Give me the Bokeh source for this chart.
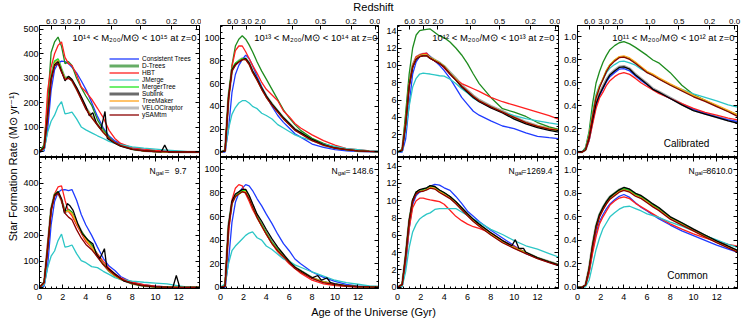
import math
from bokeh.plotting import figure
from bokeh.models import (Range1d, LinearAxis, FixedTicker, SingleIntervalTicker,
                          Label, Legend, LegendItem, PrintfTickFormatter)
from bokeh.layouts import row, column
from bokeh.embed import file_html
from bokeh.resources import INLINE

# ---------------------------------------------------------------- data
age = [0, 0.4, 0.7, 1.0, 1.3, 1.6, 1.9, 2.2, 2.5, 2.8, 3.2, 3.6, 4.0, 4.5, 5.0, 5.5,
       6.0, 6.5, 7.0, 8.0, 9.0, 10.0, 11.0, 12.0, 13.0, 13.8]

# ---- 1e14 - 1e15, calibrated
p1t_ct = [0, 5, 90, 250, 335, 362, 370, 368, 360, 345, 322, 290, 255, 202, 145, 98, 65, 45, 33, 15, 9, 5, 2, 1, 0, 0]
p1t_dt = [0, 30, 200, 405, 448, 468, 430, 360, 368, 352, 300, 262, 228, 190, 131, 92, 60, 38, 28, 11, 6, 3, 1, 0, 0, 0]
p1t_hbt = [0, 15, 250, 345, 400, 434, 448, 385, 360, 352, 315, 265, 245, 215, 178, 140, 88, 55, 35, 18, 12, 7, 3, 1, 0, 0]
p1t_jm = [0, 10, 80, 125, 150, 185, 205, 155, 158, 162, 135, 102, 90, 78, 66, 55, 43, 35, 30, 21, 16, 12, 8, 4, 0, 0]
p1t_mt = [0, 20, 155, 310, 370, 380, 338, 300, 306, 293, 258, 220, 180, 144, 111, 81, 55, 37, 25, 12, 5, 2, 1, 0, 0, 0]
p1t_sl_age = [0, 0.4, 0.7, 1.0, 1.3, 1.6, 1.9, 2.2, 2.5, 2.8, 3.2, 3.6, 4.0, 4.3, 4.6, 4.9,
              5.3, 5.65, 5.85, 6.5, 7.0, 8.0, 9.0, 10.0, 10.5, 10.8, 11.1, 12.0, 13.0, 13.8]
p1t_sl = [0, 20, 150, 300, 355, 368, 330, 290, 308, 295, 262, 225, 185, 148, 160, 118,
          92, 165, 55, 36, 24, 11, 5, 2, 1, 28, 0, 0, 0, 0]
p1t_tm = [0, 18, 148, 300, 360, 372, 332, 298, 303, 290, 256, 218, 178, 143, 110, 80, 55, 37, 25, 12, 5, 2, 1, 0, 0, 0]
p1t_vr = [0, 18, 150, 305, 365, 375, 335, 300, 305, 292, 258, 220, 180, 145, 112, 82, 56, 38, 26, 12, 5, 2, 1, 0, 0, 0]
p1t_ys = [0, 15, 140, 290, 350, 360, 325, 295, 300, 290, 255, 215, 175, 140, 110, 80, 55, 38, 26, 12, 5, 2, 1, 0, 0, 0]

# ---- 1e14 - 1e15, common
p1b_ct = [0, 5, 80, 240, 330, 365, 375, 376, 372, 376, 335, 280, 240, 200, 155, 112, 82, 65, 42, 20, 10, 5, 2, 1, 0, 0]
p1b_dt = [0, 20, 150, 300, 355, 365, 335, 290, 300, 290, 245, 215, 192, 165, 128, 90, 62, 45, 32, 14, 6, 2, 1, 0, 0, 0]
p1b_hbt = [0, 15, 170, 290, 360, 386, 390, 335, 292, 275, 240, 208, 176, 153, 129, 100, 74, 52, 37, 20, 11, 5, 2, 1, 0, 0]
p1b_jm = [0, 10, 75, 120, 140, 180, 205, 155, 158, 163, 130, 103, 95, 80, 76, 62, 50, 38, 31, 24, 20, 17, 14, 6, 0, 0]
p1b_mt = [0, 20, 152, 302, 358, 368, 336, 290, 296, 286, 250, 215, 186, 156, 122, 90, 64, 45, 32, 15, 6, 2, 1, 0, 0, 0]
p1b_sl_age = [0, 0.4, 0.7, 1.0, 1.3, 1.6, 1.9, 2.15, 2.4, 2.6, 2.9, 3.3, 3.7, 4.2, 4.6, 4.9,
              5.2, 5.6, 5.8, 6.5, 7.3, 8.7, 10.0, 11.5, 11.8, 12.1, 13.0, 13.8]
p1b_sl = [0, 20, 150, 300, 355, 368, 340, 285, 322, 315, 296, 245, 206, 181, 168, 129,
          110, 149, 78, 53, 24, 8, 2, 0, 46, 0, 0, 0]
p1b_tm = [0, 18, 148, 298, 355, 366, 334, 290, 294, 284, 248, 213, 184, 155, 121, 89, 63, 45, 32, 15, 6, 2, 1, 0, 0, 0]
p1b_vr = [0, 18, 150, 300, 356, 367, 335, 290, 295, 285, 250, 215, 185, 155, 122, 90, 64, 45, 32, 15, 6, 2, 1, 0, 0, 0]
p1b_ys = [0, 18, 145, 295, 350, 362, 335, 285, 270, 260, 222, 190, 165, 145, 117, 88, 66, 48, 33, 16, 7, 3, 1, 0, 0, 0]

# ---- 1e13 - 1e14, calibrated
p2t_ct = [0, 0, 20, 52, 68, 76, 81, 85, 82, 76, 66, 57, 49, 40, 32, 26, 21, 16, 13, 7, 4, 2, 1, 0.5, 0.3, 0.2]
p2t_dt = [0, 1, 45, 76, 93, 99, 102, 99, 94, 88, 79, 71, 64, 55, 46, 37, 30, 24, 19, 12, 7.5, 4, 2, 1, 0.5, 0.3]
p2t_hbt = [0, 1, 45, 75, 89, 93, 93, 88, 82, 76, 69, 61, 55, 50, 45, 36, 31, 25, 21, 15, 10, 6, 3, 2, 1, 0.5]
p2t_jm = [0, 2, 20, 33, 39, 43, 45, 45, 43, 40, 38, 34, 32, 29, 24, 21, 18, 15, 13, 10, 7, 5, 3, 2, 1, 0.7]
p2t_mt = [0, 1, 50, 73, 78, 80, 82, 82, 78, 71, 64, 56, 49, 42, 36, 30, 25, 20, 17, 11, 6, 3.5, 2, 1, 0.5, 0.3]
p2t_sl = [0, 1, 48, 72, 77, 79, 81, 82, 78, 71, 64, 56, 49, 42, 36, 30, 25, 20, 17, 11, 6.5, 3.5, 2, 1, 0.5, 0.3]
p2t_tm = [0, 1, 47, 71, 77, 79, 81, 81, 77, 70, 63, 55, 48, 41, 35, 29, 24, 20, 16, 10, 6, 3.5, 2, 1, 0.5, 0.3]
p2t_vr = [0, 1, 48, 72, 77, 80, 82, 82, 78, 71, 64, 56, 49, 42, 36, 30, 25, 20, 17, 11, 6, 3.5, 2, 1, 0.5, 0.3]
p2t_ys = [0, 1, 47, 71, 76, 79, 81, 81, 77, 70, 63, 55, 48, 41, 35, 29, 24, 19, 16, 10, 6, 3.5, 2, 1, 0.5, 0.3]

# ---- 1e13 - 1e14, common
p2b_ct = [0, 0, 22, 55, 72, 80, 84, 87, 86, 82, 75, 69, 62, 54, 45, 37, 31, 24, 20, 13, 8.5, 5, 2.5, 1, 0.5, 0.3]
p2b_dt = [0, 1, 50, 71, 77, 79, 81, 81, 76, 69, 60, 53, 46, 38, 32, 27, 22, 17, 14, 8, 4.5, 2.6, 1.2, 0.6, 0.3, 0.2]
p2b_hbt = [0, 1, 45, 74, 84, 87, 86, 79, 73, 66, 59, 52, 45, 37, 30, 25, 20, 16, 12, 6, 3, 1.5, 0.8, 0.4, 0.2, 0.1]
p2b_jm = [0, 3, 20, 31, 35, 38, 41, 44, 46, 47, 42, 40, 35, 32, 28, 24, 22, 19, 17, 13, 9.5, 6, 4, 2.6, 1.2, 0.8]
p2b_mt = [0, 1, 52, 72, 78, 80, 82, 82, 76, 69, 60, 53, 46, 38, 32, 27, 22, 17, 14, 8, 4.5, 2.6, 1.2, 0.6, 0.3, 0.2]
p2b_sl_age = [0, 0.4, 0.7, 1.0, 1.3, 1.6, 1.9, 2.2, 2.5, 2.8, 3.2, 3.6, 4.0, 4.5, 5.0, 5.5,
              6.0, 6.5, 7.0, 8.0, 8.5, 8.8, 9.3, 9.6, 10.0, 11.0, 12.0, 13.0, 13.8]
p2b_sl = [0, 1, 52, 73, 79, 81, 83, 83, 78, 71, 62, 56, 49, 41, 34, 28,
          22, 17, 14, 8, 10, 6, 8, 4, 3, 1.2, 0.6, 0.3, 0.2]
p2b_tm = [0, 1, 51, 71, 77, 79, 81, 81, 75, 68, 59, 52, 45, 37, 31, 26, 21, 17, 13, 8, 4.5, 2.5, 1.2, 0.6, 0.3, 0.2]
p2b_vr = [0, 1, 52, 72, 78, 80, 82, 82, 76, 69, 60, 53, 46, 38, 32, 27, 22, 17, 14, 8, 4.5, 2.6, 1.2, 0.6, 0.3, 0.2]
p2b_ys = [0, 1, 50, 71, 77, 79, 81, 80, 75, 68, 59, 52, 45, 37, 31, 26, 21, 16, 13, 7.5, 4, 2.4, 1.1, 0.5, 0.3, 0.2]

# ---- 1e12 - 1e13, calibrated
p3t_ct = [0, 0, 1.5, 5.5, 9.0, 10.4, 11.0, 11.3, 11.4, 11.0, 10.5, 10.0, 9.4, 8.5, 7.4, 6.3, 5.5, 4.7, 4.25, 3.6, 3.0, 2.7, 2.2, 1.8, 1.65, 1.55]
p3t_dt = [0, 0.3, 4.5, 9.0, 12.0, 13.5, 14.0, 14.1, 14.15, 14.2, 13.8, 13.4, 13.2, 12.7, 12.0, 11.2, 10.2, 9.0, 7.9, 6.3, 5.0, 4.6, 4.1, 3.4, 2.9, 2.6]
p3t_hbt = [0, 0.2, 3.5, 7.8, 10.0, 11.0, 11.2, 11.35, 11.4, 10.9, 10.5, 10.3, 9.7, 9.0, 8.4, 7.9, 7.6, 7.3, 7.0, 6.3, 5.8, 5.4, 5.0, 4.6, 4.2, 3.8]
p3t_jm = [0, 0.1, 2.5, 5.3, 7.5, 8.5, 9.0, 9.1, 9.05, 9.0, 8.9, 8.8, 8.75, 8.4, 7.9, 7.3, 6.8, 6.2, 5.8, 5.2, 4.6, 4.2, 3.85, 3.6, 3.35, 3.2]
p3t_mt = [0, 0.2, 3.3, 7.7, 9.9, 10.8, 11.1, 11.2, 11.2, 10.9, 10.6, 10.3, 9.9, 9.1, 8.4, 7.6, 7.0, 6.4, 5.9, 5.2, 4.6, 3.9, 3.35, 2.9, 2.6, 2.45]
p3t_sl = [0, 0.2, 3.2, 7.6, 9.8, 10.7, 11.0, 11.1, 11.1, 10.8, 10.5, 10.2, 9.8, 9.0, 8.3, 7.5, 6.9, 6.3, 5.8, 5.1, 4.5, 3.8, 3.25, 2.8, 2.5, 2.3]
p3t_tm = [0, 0.2, 3.3, 7.7, 9.9, 10.8, 11.1, 11.2, 11.2, 10.9, 10.6, 10.3, 9.9, 9.1, 8.4, 7.6, 7.0, 6.4, 5.9, 5.2, 4.6, 4.0, 3.4, 3.0, 2.7, 2.55]
p3t_vr = [0, 0.2, 3.3, 7.8, 10.0, 10.9, 11.2, 11.3, 11.25, 10.95, 10.6, 10.3, 9.9, 9.2, 8.5, 7.7, 7.1, 6.5, 6.0, 5.3, 4.7, 4.05, 3.45, 3.0, 2.7, 2.55]
p3t_ys = [0, 0.2, 3.2, 7.6, 9.8, 10.7, 11.0, 11.1, 11.1, 10.8, 10.5, 10.2, 9.8, 9.0, 8.3, 7.6, 7.0, 6.4, 5.9, 5.2, 4.6, 4.0, 3.4, 2.95, 2.65, 2.5]

# ---- 1e12 - 1e13, common
p3b_ct = [0, 0.1, 2.5, 6.8, 9.6, 10.6, 11.0, 11.2, 11.45, 11.7, 11.9, 11.8, 11.5, 11.2, 10.5, 9.7, 8.8, 8.2, 7.6, 6.6, 5.7, 4.8, 3.9, 3.4, 2.9, 2.6]
p3b_dt = [0, 0.3, 3.8, 7.8, 10.1, 11.0, 11.2, 11.3, 11.45, 11.7, 11.6, 11.2, 10.9, 10.5, 9.9, 9.2, 8.5, 7.8, 7.25, 6.2, 5.3, 4.6, 4.0, 3.4, 2.95, 2.6]
p3b_hbt = [0, 0.2, 3.0, 6.8, 9.2, 10.0, 10.3, 10.3, 10.2, 10.1, 10.0, 9.9, 9.6, 8.9, 8.2, 7.7, 7.3, 7.0, 6.8, 6.3, 5.4, 4.7, 4.0, 3.4, 2.95, 2.6]
p3b_jm = [0, 0.1, 1.8, 4.6, 6.4, 7.3, 7.9, 8.2, 8.45, 8.6, 9.0, 9.1, 9.1, 9.1, 9.1, 8.7, 8.3, 7.9, 7.5, 6.7, 6.1, 5.4, 4.8, 4.4, 3.9, 3.5]
p3b_mt = [0, 0.3, 3.6, 7.6, 10.0, 10.9, 11.15, 11.2, 11.35, 11.6, 11.5, 11.1, 10.8, 10.4, 9.8, 9.1, 8.4, 7.75, 7.2, 6.2, 5.3, 4.6, 4.0, 3.4, 2.95, 2.6]
p3b_sl_age = [0, 0.4, 0.7, 1.0, 1.3, 1.6, 1.9, 2.2, 2.5, 2.8, 3.2, 3.6, 4.0, 4.5, 5.0, 5.5,
              6.0, 6.5, 7.0, 8.0, 9.0, 9.8, 10.1, 10.4, 10.8, 11.0, 12.0, 13.0, 13.8]
p3b_sl = [0, 0.3, 3.7, 7.7, 10.1, 11.0, 11.3, 11.4, 11.5, 11.75, 11.65, 11.25, 10.95, 10.5, 9.9, 9.2,
          8.5, 7.85, 7.3, 6.3, 5.4, 4.8, 5.5, 4.5, 4.5, 4.05, 3.4, 2.95, 2.6]
p3b_tm = [0, 0.3, 3.6, 7.6, 10.0, 10.85, 11.1, 11.15, 11.3, 11.55, 11.45, 11.05, 10.75, 10.35, 9.75, 9.05, 8.35, 7.7, 7.15, 6.15, 5.25, 4.55, 3.95, 3.35, 2.9, 2.55]
p3b_vr = [0, 0.3, 3.6, 7.6, 10.0, 10.9, 11.15, 11.2, 11.35, 11.6, 11.5, 11.1, 10.8, 10.4, 9.8, 9.1, 8.4, 7.75, 7.2, 6.2, 5.3, 4.6, 4.0, 3.4, 2.95, 2.6]
p3b_ys = [0, 0.3, 3.5, 7.5, 9.9, 10.8, 11.05, 11.1, 11.25, 11.45, 11.35, 10.95, 10.65, 10.25, 9.65, 8.95, 8.25, 7.6, 7.05, 6.05, 5.15, 4.5, 3.9, 3.3, 2.85, 2.5]

# ---- 1e11 - 1e12, calibrated
p4t_ct = [0, 0, 0.02, 0.1, 0.26, 0.4, 0.49, 0.55, 0.61, 0.655, 0.69, 0.72, 0.725, 0.705, 0.66, 0.62, 0.585, 0.545, 0.515, 0.465, 0.415, 0.37, 0.335, 0.305, 0.28, 0.265]
p4t_dt = [0, 0, 0.04, 0.18, 0.42, 0.6, 0.7, 0.78, 0.84, 0.89, 0.925, 0.95, 0.96, 0.94, 0.91, 0.875, 0.84, 0.8, 0.775, 0.69, 0.58, 0.5, 0.45, 0.4, 0.355, 0.325]
p4t_hbt = [0, 0, 0.02, 0.1, 0.24, 0.38, 0.47, 0.52, 0.58, 0.62, 0.655, 0.68, 0.69, 0.675, 0.64, 0.6, 0.57, 0.54, 0.51, 0.465, 0.42, 0.38, 0.345, 0.32, 0.295, 0.28]
p4t_jm = [0, 0, 0.03, 0.15, 0.35, 0.5, 0.58, 0.63, 0.69, 0.73, 0.76, 0.785, 0.79, 0.775, 0.755, 0.72, 0.695, 0.665, 0.64, 0.585, 0.545, 0.505, 0.475, 0.445, 0.41, 0.39]
p4t_mt = [0, 0, 0.02, 0.14, 0.32, 0.48, 0.57, 0.64, 0.71, 0.76, 0.8, 0.825, 0.83, 0.81, 0.775, 0.735, 0.695, 0.67, 0.64, 0.585, 0.535, 0.485, 0.445, 0.4, 0.355, 0.315]
p4t_sl = [0, 0, 0.02, 0.12, 0.28, 0.42, 0.5, 0.56, 0.62, 0.67, 0.705, 0.735, 0.74, 0.72, 0.67, 0.63, 0.59, 0.545, 0.52, 0.465, 0.41, 0.36, 0.33, 0.3, 0.27, 0.25]
p4t_tm = [0, 0, 0.02, 0.14, 0.32, 0.48, 0.57, 0.64, 0.71, 0.76, 0.8, 0.83, 0.835, 0.818, 0.782, 0.742, 0.702, 0.677, 0.647, 0.592, 0.542, 0.492, 0.452, 0.407, 0.362, 0.322]
p4t_vr = [0, 0, 0.02, 0.12, 0.29, 0.43, 0.51, 0.57, 0.63, 0.675, 0.71, 0.74, 0.745, 0.725, 0.675, 0.635, 0.595, 0.55, 0.525, 0.47, 0.415, 0.365, 0.335, 0.305, 0.275, 0.255]
p4t_ys = [0, 0, 0.02, 0.13, 0.31, 0.47, 0.56, 0.63, 0.7, 0.75, 0.79, 0.82, 0.825, 0.805, 0.77, 0.73, 0.69, 0.665, 0.635, 0.58, 0.53, 0.48, 0.44, 0.395, 0.35, 0.31]

# ---- 1e11 - 1e12, common
p4b_ct = [0, 0, 0.015, 0.13, 0.31, 0.46, 0.56, 0.62, 0.67, 0.71, 0.745, 0.775, 0.79, 0.765, 0.72, 0.68, 0.65, 0.615, 0.585, 0.53, 0.48, 0.44, 0.4, 0.36, 0.325, 0.3]
p4b_dt = [0, 0, 0.02, 0.15, 0.35, 0.51, 0.61, 0.67, 0.72, 0.76, 0.79, 0.82, 0.835, 0.82, 0.785, 0.765, 0.73, 0.695, 0.665, 0.59, 0.54, 0.485, 0.435, 0.385, 0.34, 0.305]
p4b_hbt = [0, 0, 0.015, 0.12, 0.29, 0.43, 0.54, 0.6, 0.65, 0.7, 0.735, 0.76, 0.77, 0.755, 0.715, 0.685, 0.655, 0.625, 0.595, 0.54, 0.495, 0.455, 0.42, 0.39, 0.365, 0.35]
p4b_jm = [0, 0, 0.005, 0.06, 0.19, 0.32, 0.42, 0.5, 0.55, 0.6, 0.635, 0.665, 0.685, 0.69, 0.67, 0.65, 0.625, 0.61, 0.595, 0.555, 0.52, 0.48, 0.44, 0.405, 0.365, 0.34]
p4b_mt = [0, 0, 0.02, 0.16, 0.36, 0.52, 0.62, 0.68, 0.73, 0.77, 0.8, 0.83, 0.845, 0.83, 0.795, 0.775, 0.74, 0.705, 0.675, 0.595, 0.545, 0.49, 0.44, 0.39, 0.345, 0.31]
p4b_sl = [0, 0, 0.02, 0.16, 0.36, 0.52, 0.62, 0.68, 0.73, 0.77, 0.8, 0.83, 0.85, 0.835, 0.8, 0.78, 0.745, 0.71, 0.68, 0.6, 0.55, 0.495, 0.445, 0.395, 0.35, 0.315]
p4b_tm = [0, 0, 0.02, 0.15, 0.35, 0.5, 0.6, 0.66, 0.71, 0.75, 0.785, 0.815, 0.83, 0.815, 0.78, 0.76, 0.725, 0.69, 0.66, 0.585, 0.535, 0.48, 0.43, 0.385, 0.34, 0.305]
p4b_vr = [0, 0, 0.02, 0.16, 0.36, 0.52, 0.62, 0.68, 0.73, 0.77, 0.8, 0.83, 0.845, 0.83, 0.795, 0.775, 0.74, 0.705, 0.675, 0.595, 0.545, 0.49, 0.44, 0.39, 0.345, 0.31]
p4b_ys = [0, 0, 0.02, 0.15, 0.34, 0.5, 0.6, 0.66, 0.71, 0.75, 0.78, 0.81, 0.825, 0.81, 0.775, 0.755, 0.72, 0.685, 0.655, 0.58, 0.53, 0.48, 0.43, 0.38, 0.335, 0.3]

names = ["Consistent Trees", "D-Trees", "HBT", "JMerge", "MergerTree",
         "Sublink", "TreeMaker", "VELOCIraptor", "ySAMtm"]
mass_bins = ["10\u00b9\u2074 < M\u2082\u2080\u2080/M\u2299 < 10\u00b9\u2075 at z=0",
             "10\u00b9\u00b3 < M\u2082\u2080\u2080/M\u2299 < 10\u00b9\u2074 at z=0",
             "10\u00b9\u00b2 < M\u2082\u2080\u2080/M\u2299 < 10\u00b9\u00b3 at z=0",
             "10\u00b9\u00b9 < M\u2082\u2080\u2080/M\u2299 < 10\u00b9\u00b2 at z=0"]
ngal_values = ["9.7", "148.6", "1269.4", "8610.0"]
z_labels = ["6.0", "3.0", "2.0", "1.0", "0.5", "0.2", "0.0"]
z_ages = [1.05, 2.27, 3.47, 6.25, 8.75, 11.4, 13.55]


def series(ct, dt, hbt, jm, mt, sl, tm, vr, ys, sl_age=age):
    return {"Consistent Trees": (age, ct), "D-Trees": (age, dt), "HBT": (age, hbt),
            "JMerge": (age, jm), "MergerTree": (age, mt), "Sublink": (sl_age, sl),
            "TreeMaker": (age, tm), "VELOCIraptor": (age, vr), "ySAMtm": (age, ys)}


panels = [
    [series(p1t_ct, p1t_dt, p1t_hbt, p1t_jm, p1t_mt, p1t_sl, p1t_tm, p1t_vr, p1t_ys, p1t_sl_age),
     series(p2t_ct, p2t_dt, p2t_hbt, p2t_jm, p2t_mt, p2t_sl, p2t_tm, p2t_vr, p2t_ys),
     series(p3t_ct, p3t_dt, p3t_hbt, p3t_jm, p3t_mt, p3t_sl, p3t_tm, p3t_vr, p3t_ys),
     series(p4t_ct, p4t_dt, p4t_hbt, p4t_jm, p4t_mt, p4t_sl, p4t_tm, p4t_vr, p4t_ys)],
    [series(p1b_ct, p1b_dt, p1b_hbt, p1b_jm, p1b_mt, p1b_sl, p1b_tm, p1b_vr, p1b_ys, p1b_sl_age),
     series(p2b_ct, p2b_dt, p2b_hbt, p2b_jm, p2b_mt, p2b_sl, p2b_tm, p2b_vr, p2b_ys, p2b_sl_age),
     series(p3b_ct, p3b_dt, p3b_hbt, p3b_jm, p3b_mt, p3b_sl, p3b_tm, p3b_vr, p3b_ys, p3b_sl_age),
     series(p4b_ct, p4b_dt, p4b_hbt, p4b_jm, p4b_mt, p4b_sl, p4b_tm, p4b_vr, p4b_ys)],
]

# ---------------------------------------------------------------- styles
FONT = "Liberation Sans"
color = {"Consistent Trees": "#1f3bff", "D-Trees": "#1e8c1e", "HBT": "#ff1f1f",
         "JMerge": "#2cc6c6", "MergerTree": "#1fe61f", "Sublink": "#000000",
         "TreeMaker": "#ffa31a", "VELOCIraptor": "#a6a6a6", "ySAMtm": "#8b0000"}
width = {n: 1.3 for n in names}
width["VELOCIraptor"] = 2.6
leg_color = dict(color)
leg_color.update({"D-Trees": "#66ad66", "Sublink": "#6b6b6b", "VELOCIraptor": "#bdbdbd",
                  "JMerge": "#5ccfcf"})
leg_width = {n: 1.3 for n in names}
leg_width.update({"D-Trees": 3, "Sublink": 3, "VELOCIraptor": 3})
draw_order = ["VELOCIraptor", "Consistent Trees", "D-Trees", "HBT", "JMerge",
              "MergerTree", "TreeMaker", "Sublink", "ySAMtm"]

FW = 161
FH = [132, 131]
TOP_B = 12      # room for redshift labels
BOT_B = 16      # room for age labels
BL = [18, 16, 17, 16]
BR = [2, 2, 2, 6]
y_int = [100, 20, 2, 0.2]
y_minor = [5, 4, 4, 4]
y_rng = [[(-22.4, 515), (-4.83, 111), (-0.635, 14.6), (-0.048, 1.1)],
         [(-4, 499), (-1, 110), (-0.14, 15), (-0.01, 1.105)]]


def style_axis(ax, labels, size="9px", standoff=1):
    ax.major_tick_in = 4
    ax.major_tick_out = 0
    ax.minor_tick_in = 2
    ax.minor_tick_out = 0
    ax.axis_line_color = "black"
    ax.major_tick_line_color = "black"
    ax.minor_tick_line_color = "black"
    ax.major_label_text_font = FONT
    if labels:
        ax.major_label_text_color = "black"
        ax.major_label_text_font_size = size
        ax.major_label_standoff = standoff
    else:
        ax.major_label_text_color = None
        ax.major_label_text_font_size = "0px"
        ax.major_label_standoff = 0


def add_text(p, x, y, s, size, align="left", baseline="alphabetic"):
    p.add_layout(Label(x=x, y=y, x_units="screen", y_units="screen", text=s,
                       text_font=FONT, text_font_size=size, text_align=align,
                       text_baseline=baseline, text_color="black"))


def make_panel(r, c):
    top = TOP_B if r == 0 else 0
    bottom = 0 if r == 0 else BOT_B
    p = figure(width=BL[c] + FW + BR[c], height=top + FH[r] + bottom,
               x_range=Range1d(0, 13.8), y_range=Range1d(*y_rng[r][c]),
               output_backend="svg", toolbar_location=None,
               x_axis_location=None, y_axis_location=None,
               min_border_left=BL[c], min_border_right=BR[c],
               min_border_top=top, min_border_bottom=bottom)
    p.grid.visible = False
    p.outline_line_color = "black"

    yl = LinearAxis(ticker=SingleIntervalTicker(interval=y_int[c], num_minor_ticks=y_minor[c]))
    if c == 3:
        yl.formatter = PrintfTickFormatter(format="%.1f")
    style_axis(yl, True)
    p.add_layout(yl, "left")
    yr = LinearAxis(ticker=SingleIntervalTicker(interval=y_int[c], num_minor_ticks=y_minor[c]))
    style_axis(yr, False)
    p.add_layout(yr, "right")

    xb = LinearAxis(ticker=SingleIntervalTicker(interval=2, num_minor_ticks=4))
    style_axis(xb, r == 1, standoff=5)
    p.add_layout(xb, "below")
    if r == 0:
        xa = LinearAxis(ticker=FixedTicker(ticks=z_ages),
                        major_label_overrides=dict(zip(z_ages, z_labels)))
        style_axis(xa, True, size="8px", standoff=2)
    else:
        xa = LinearAxis(ticker=SingleIntervalTicker(interval=2, num_minor_ticks=4))
        style_axis(xa, False)
    p.add_layout(xa, "above")

    data = panels[r][c]
    for n in draw_order:
        xs, ys = data[n]
        assert len(xs) == len(ys), (r, c, n, len(xs), len(ys))
        p.line(xs, ys, line_color=color[n], line_width=width[n])

    if r == 0:
        add_text(p, FW - 4, FH[0] - 12, mass_bins[c], "9.5px", align="right")
        if c == 3:
            add_text(p, 109, 14, "Calibrated", "10px", align="center")
    else:
        nx = [110, 111, 111, 111][c]
        eq = [125, 125, 124, 125][c]
        vr = [147, 153, 155, 155][c]
        add_text(p, nx, 118, "N", "8.5px")
        add_text(p, nx + 6.2, 115.5, "gal", "6px")
        add_text(p, eq, 118, "=", "8.5px")
        add_text(p, vr, 118, ngal_values[c], "8.5px", align="right")
        if c == 3:
            add_text(p, 110, 13, "Common", "10px", align="center")
    return p


figs = [[make_panel(r, c) for c in range(4)] for r in range(2)]

# legend in first panel (legend-only renderers hold a single NaN so nothing is drawn in the plot)
p0 = figs[0][0]
items = []
for n in names:
    rr = p0.line(x=[float("nan")], y=[float("nan")], line_color=leg_color[n], line_width=leg_width[n])
    items.append(LegendItem(label=n, renderers=[rr]))
legend = Legend(items=items, location=(70, 39), padding=0, margin=0, spacing=0,
                glyph_width=30, glyph_height=7, label_height=7, label_standoff=3,
                label_text_font=FONT, label_text_font_size="6.5px",
                label_text_color="black", border_line_color=None,
                background_fill_alpha=0)
p0.add_layout(legend)

TOTAL_W = 20 + sum(BL[c] + FW + BR[c] for c in range(4))


def strip(w, h):
    s = figure(width=w, height=h, x_range=Range1d(0, w), y_range=Range1d(0, h),
               output_backend="svg", toolbar_location=None,
               x_axis_location=None, y_axis_location=None,
               min_border=0, min_border_left=0, min_border_right=0,
               min_border_top=0, min_border_bottom=0)
    s.grid.visible = False
    s.outline_line_color = None
    return s


top_strip = strip(TOTAL_W, 13)
top_strip.add_layout(Label(x=373, y=6.5, text="Redshift", text_font=FONT, text_font_size="11px",
                           text_align="center", text_baseline="middle", text_color="black"))
bot_strip = strip(TOTAL_W, 15)
bot_strip.add_layout(Label(x=373, y=8, text="Age of the Universe (Gyr)", text_font=FONT,
                           text_font_size="11px", text_align="center", text_baseline="middle",
                           text_color="black"))
grid_h = TOP_B + FH[0] + FH[1] + BOT_B
ylab = strip(20, grid_h)
ylab.add_layout(Label(x=12, y=grid_h - 154, text="Star Formation Rate (M\u2299 yr\u207b\u00b9)",
                      angle=math.pi / 2, text_font=FONT, text_font_size="11px",
                      text_align="center", text_baseline="middle", text_color="black"))

grid = column(row(*figs[0]), row(*figs[1]))
layout = column(top_strip, row(ylab, grid), bot_strip)

open("out.html", "w").write(file_html(layout, INLINE))
